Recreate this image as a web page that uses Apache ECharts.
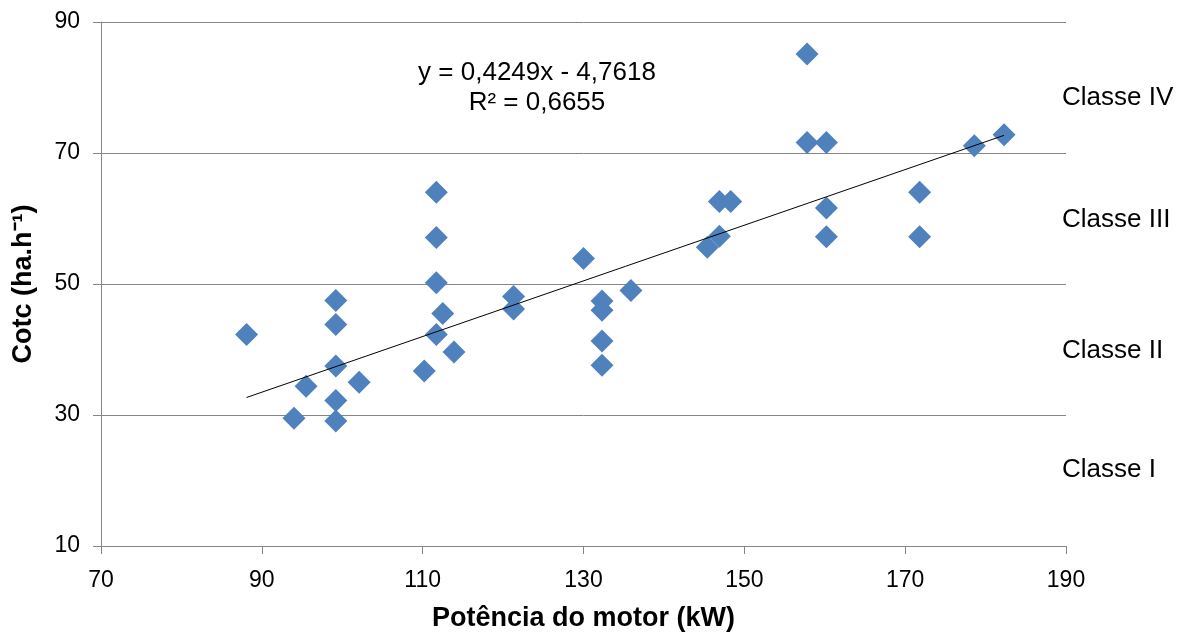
<!DOCTYPE html>
<html><head><meta charset="utf-8">
<script src="https://cdn.jsdelivr.net/npm/echarts@6/dist/echarts.min.js"></script>
<style>html,body{margin:0;padding:0;background:#fff}#c{width:1184px;height:637px}</style>
</head><body><div id="c"></div>
<script>
const xTicks = [70, 90, 110, 130, 150, 170, 190];
const yTicks = [10, 30, 50, 70, 90];
const power = [88.1, 94.0, 95.5, 99.2, 99.2, 99.2, 99.2, 99.2, 102.1, 110.2,
  111.7, 111.7, 111.7, 111.7, 112.5, 113.9, 121.3, 121.3, 130.0, 132.3,
  132.3, 132.3, 132.3, 135.9, 145.4, 146.9, 146.9, 148.3, 157.8, 157.8,
  160.2, 160.2, 160.2, 171.8, 171.8, 178.6, 182.3];
const cotc = [42.3, 29.5, 34.4, 47.5, 43.8, 37.5, 32.2, 29.1, 35.0, 36.7,
  64.0, 57.1, 50.2, 42.3, 45.5, 39.6, 48.1, 46.2, 53.9, 47.4,
  46.0, 41.3, 37.6, 49.0, 55.6, 57.3, 62.6, 62.6, 85.1, 71.6,
  71.6, 61.6, 57.2, 64.0, 57.2, 71.1, 72.8];
const slope = 0.4249;
const intercept = -4.7618;
const equationLines = ['y = 0,4249x - 4,7618', 'R² = 0,6655'];
const classLabels = ['Classe IV', 'Classe III', 'Classe II', 'Classe I'];
const xName = 'Potência do motor (kW)';
const yName = 'Cotc (ha.h⁻¹)';

const points = power.map((p, i) => [p, cotc[i]]);
const xMin = Math.min(...power), xMax = Math.max(...power);
const trend = [[xMin, slope * xMin + intercept], [xMax, slope * xMax + intercept]];

const chart = echarts.init(document.getElementById('c'));
const gray = '#868686';
const classY = [98, 220, 351, 470];
const annoFont = '26px "Liberation Sans"';
chart.setOption({
  animation: false,
  backgroundColor: '#fff',
  grid: { left: 101, right: 118, top: 22, bottom: 90, containLabel: false },
  xAxis: {
    type: 'value', min: 70, max: 190,
    name: xName, nameLocation: 'middle', nameGap: 59,
    nameTextStyle: { fontFamily: 'Liberation Sans', fontWeight: 'bold', fontSize: 27, color: '#000' },
    axisLine: { show: true, lineStyle: { color: gray, width: 1 } },
    axisTick: { show: true, length: 8, lineStyle: { color: gray }, customValues: xTicks },
    axisLabel: { customValues: xTicks, margin: 23, fontFamily: 'Liberation Sans', fontSize: 23, color: '#000' },
    splitLine: { show: false }
  },
  yAxis: {
    type: 'value', min: 10, max: 90,
    name: yName, nameLocation: 'middle', nameGap: 64,
    nameTextStyle: { fontFamily: 'Liberation Sans', fontWeight: 'bold', fontSize: 27, color: '#000' },
    axisLine: { show: true, lineStyle: { color: gray, width: 1 } },
    axisTick: { show: true, length: 8, lineStyle: { color: gray }, customValues: yTicks },
    axisLabel: { customValues: yTicks, margin: 21, fontFamily: 'Liberation Sans', fontSize: 23, color: '#000' },
    splitLine: { show: true, lineStyle: { color: gray, width: 1 } }
  },
  series: [
    {
      type: 'scatter', data: points, symbol: 'diamond', symbolSize: 23,
      itemStyle: { color: '#4F81BD', opacity: 1 }
    },
    {
      type: 'line', data: trend, showSymbol: false, symbol: 'none',
      lineStyle: { color: '#000', width: 1 }, z: 5
    }
  ],
  graphic: [
    { type: 'text', x: 537, y: 73, style: { text: equationLines[0], font: annoFont, fill: '#000', textAlign: 'center', textVerticalAlign: 'middle' } },
    { type: 'text', x: 537, y: 103, style: { text: equationLines[1], font: annoFont, fill: '#000', textAlign: 'center', textVerticalAlign: 'middle' } }
  ].concat(classLabels.map((t, i) => ({
    type: 'text', x: 1062, y: classY[i],
    style: { text: t, font: annoFont, fill: '#000', textAlign: 'left', textVerticalAlign: 'middle' }
  })))
});
</script></body></html>
